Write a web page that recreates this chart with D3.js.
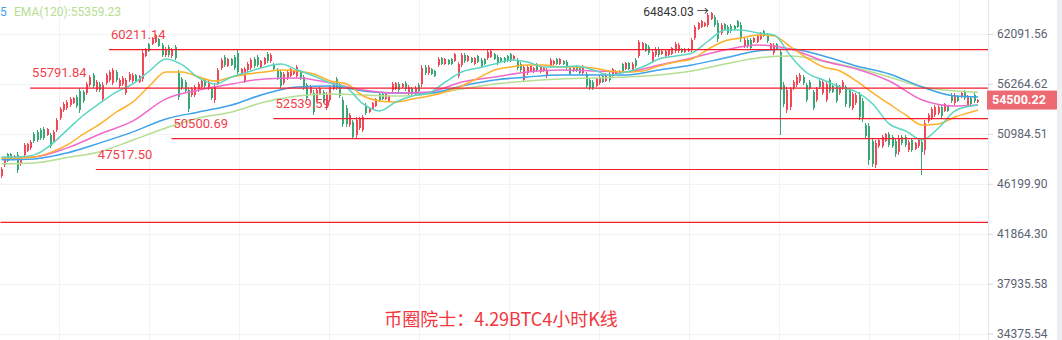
<!DOCTYPE html>
<meta charset="utf-8">
<script src="https://d3js.org/d3.v7.min.js"></script>
<style>
  body { margin: 0; background: #fff; }
  svg { display: block; font-family: Roboto, "Noto Sans CJK SC", sans-serif; }
</style>
<div id="chart"></div>
<script>
// price axis ticks (log scale)
const priceTicks = [62091.56, 56264.62, 50984.51, 46199.90, 41864.30, 37935.58, 34375.54];

// drawn support / resistance levels, and the candle they start from
const levels = [60211.14, 55791.84, 52539.59, 50500.69, 47517.50, 42812];
const levelFrom = [33, 9, 83, 52, 29, 0];
const levelLabelled = [true, true, true, true, true, false];

// 4h candles: [open, high, low, close]
const ohlc = [
  [46920,47760,46740,47580],[47950,48710,47760,48520],[49000,49100,48240,48330],[49000,49100,48430,48520],
  [48520,48910,48430,48810],[48910,49200,47200,47480],[48050,48810,47860,48620],[48910,50080,48710,49880],
  [49290,50080,49200,49980],[49590,50370,49390,50180],[50970,51180,50080,50280],[51180,51380,50180,50370],
  [51380,51580,50370,50570],[51480,51680,50370,50570],[50870,51580,50770,51480],[50870,51070,49590,49780],
  [50280,51380,50080,51180],[51380,52610,51180,52400],[52610,53760,52400,53550],[53440,54300,53230,54080],
  [53660,54510,53440,54300],[53970,54830,53760,54620],[54190,54830,54080,54730],[54830,55050,53660,53870],
  [55490,55820,53130,53440],[55380,55600,54190,54400],[55270,56480,55050,56260],[56150,57270,55930,57040],
  [57270,57490,55820,56040],[55600,56700,55380,56480],[56260,56480,55380,55600],[54620,56480,54300,56150],
  [56370,57490,56150,57270],[56700,57830,56480,57610],[56370,58060,56150,57830],[57610,57830,56480,56700],
  [56040,56930,55820,56700],[56260,57150,56040,56930],[55270,56930,55050,56700],[56700,57610,56480,57380],
  [56590,57490,56370,57270],[57270,57380,56480,56590],[56480,57270,56370,57150],[56820,60160,56480,59810],
  [59450,60400,59340,60280],[60880,61000,59920,60040],[60880,61730,60760,61600],[61120,62090,61000,61970],
  [61480,61600,60520,60640],[60760,61000,59340,59570],[59570,60520,59340,60280],[60520,60760,59340,59570],
  [59450,60400,59220,60160],[60520,60760,58990,59220],[57490,57830,54510,54830],[56820,57040,55600,55820],
  [56480,56700,55270,55490],[55600,55930,53230,53550],[55050,55930,54830,55710],[55050,56150,54830,55930],
  [55600,56480,55380,56260],[55930,56700,55820,56590],[56700,56930,55820,56040],[55820,56700,55600,56480],
  [55710,55930,54510,54730],[54510,56370,54190,56040],[56370,58060,56150,57830],[58060,59220,57830,58990],
  [59340,59570,58180,58410],[58290,59220,58180,59100],[59100,59220,58290,58410],[59340,59570,57830,58060],
  [59810,60160,57270,57610],[57380,58060,57270,57950],[56590,58180,56370,57950],[57830,58750,57610,58520],
  [58060,59220,57830,58990],[59100,59340,58060,58290],[59340,59570,58180,58410],[58180,58990,58060,58870],
  [58520,59340,58410,59220],[59690,59920,58640,58870],[58870,59810,58640,59570],[58520,58640,57830,57950],
  [57830,58060,56700,56930],[57610,57830,55820,56040],[56370,57610,56150,57380],[56930,57830,56700,57610],
  [57150,58060,57040,57950],[57380,57830,57270,57720],[57150,58410,56930,58180],[57610,57830,56700,56930],
  [57040,57270,55600,55820],[56150,56370,54510,54730],[55270,56150,55050,55930],[55270,55600,52920,53230],
  [54510,55820,54300,55600],[55160,55930,55050,55820],[55380,55600,54190,54400],[53660,55380,53440,55160],
  [54510,56150,54300,55930],[55710,56480,55600,56370],[56820,57040,55600,55820],[56260,56480,54730,54940],
  [54510,54830,51680,51990],[53660,53970,51680,51990],[51890,53130,51680,52920],[52190,52400,50470,50670],
  [50870,52710,50570,52400],[51580,52710,51380,52500],[51380,52920,51180,52710],[53970,54190,52920,53130],
  [53230,53660,53130,53550],[53550,54300,53440,54190],[53870,54730,53760,54620],[55160,55380,54300,54510],
  [55160,55270,54510,54620],[54620,55270,54510,55160],[54400,55050,54300,54940],[55600,56480,55380,56260],
  [55710,56480,55600,56370],[56260,56480,55380,55600],[55930,56370,55820,56260],[56370,56590,55490,55710],
  [55270,56150,55050,55930],[55820,55930,55050,55160],[55160,56040,54940,55820],[56150,56370,55270,55490],
  [56260,58410,55930,58060],[58180,58410,57270,57490],[57490,58410,57270,58180],[57950,58060,57270,57380],
  [57720,57830,57040,57150],[58410,59340,58180,59100],[59220,59340,58410,58520],[58520,59220,58410,59100],
  [58990,59100,58410,58520],[59100,59220,58410,58520],[58870,59810,58750,59690],[57150,58750,56930,58520],
  [58410,59810,58180,59570],[59570,59810,58640,58870],[58870,59570,58750,59450],[59220,59340,58640,58750],
  [58520,59340,58410,59220],[59450,59570,58640,58750],[58990,59220,58060,58290],[59100,59220,58410,58520],
  [59220,60160,58990,59920],[59340,60160,59220,60040],[59690,59810,58990,59100],[59340,59570,58410,58640],
  [59220,59340,58750,58870],[59220,59340,58640,58750],[59450,59570,58750,58870],[59690,59810,58750,58870],
  [59100,59570,58990,59450],[58990,59220,57830,58060],[58520,58750,57610,57830],[56700,58410,56480,58180],
  [57490,58410,57270,58180],[57720,58410,57610,58290],[57610,58180,57490,58060],[58520,58640,57610,57720],
  [57610,58410,57490,58290],[57720,58180,57610,58060],[57150,58060,56930,57830],[58290,59220,58060,58990],
  [58520,58990,58410,58870],[59100,59220,58410,58520],[58520,59220,58410,59100],[58870,58990,58410,58520],
  [58750,58990,57830,58060],[58060,58180,57270,57380],[57720,58180,57610,58060],[58290,58410,57610,57720],
  [58180,58290,57380,57490],[57490,58410,57270,58180],[57380,57610,55820,56040],[56700,56930,55600,55820],
  [56480,56700,55600,55820],[56040,56930,55930,56820],[56370,57270,56150,57040],[57150,57270,56370,56480],
  [56590,57490,56480,57380],[57380,57610,56480,56700],[57150,58060,57040,57950],[57380,57830,57270,57720],
  [57610,57830,57490,57720],[58520,58640,57610,57720],[57950,58750,57830,58640],[58640,58750,57830,57950],
  [57830,58750,57610,58520],[58990,59220,58060,58290],[59450,61360,59220,61120],[60280,61120,60160,61000],
  [60880,61000,59920,60040],[60520,60760,59570,59810],[58870,60160,58640,59920],[59570,60520,59340,60280],
  [60280,60520,59340,59570],[59690,60160,59570,60040],[59450,60160,59340,60040],[59570,60280,59450,60160],
  [59690,60520,59570,60400],[60040,61120,59810,60880],[60040,61000,59810,60760],[60280,60400,59810,59920],
  [59920,60400,59810,60280],[60040,60400,59920,60280],[60160,61600,59920,61360],[61600,63210,61360,62960],
  [62710,63580,62590,63460],[62960,63830,62830,63710],[63080,63580,62960,63460],[63210,64720,62960,64470],
  [63960,64843.03,63830,64720],[64210,64470,62960,63210],[63460,63830,61120,61480],[62220,63460,61970,63210],
  [63330,63460,62590,62710],[62960,63210,61970,62220],[63080,63330,62220,62460],[63080,63210,62590,62710],
  [63710,63830,62830,62960],[63210,63580,61120,61480],[60640,61600,60400,61360],[61360,61600,60400,60640],
  [61360,61600,60160,60400],[61120,61730,61000,61600],[61120,61970,61000,61850],[61480,62340,61360,62220],
  [62460,62590,61730,61850],[61970,62220,61000,61240],[60280,61000,60160,60880],[59810,61000,59570,60760],
  [60880,61000,60160,60280],[59920,60160,50870,55600],[56150,56480,53760,54080],[53440,55930,53130,55600],
  [53760,55930,53440,55710],[55820,56700,55600,56480],[56150,57270,55930,57040],[56590,57490,56370,57270],
  [57040,57270,56150,56370],[56150,56370,54300,54510],[56480,56700,55600,55820],[55380,55600,53440,53660],
  [54510,55930,54300,55710],[56590,56820,55710,55930],[55270,56700,55050,56480],[54510,56480,54300,56260],
  [56700,56930,55270,55490],[56040,56150,55270,55380],[56150,56370,54190,54400],[55270,56150,55050,55930],
  [55820,56700,55600,56480],[55930,56150,53760,54080],[55600,55820,53660,53870],[53660,55380,53440,55160],
  [54190,55270,53970,55050],[55050,55380,52400,52710],[54400,54730,52190,52500],[51890,52090,50570,50770],
  [51780,52090,47950,48430],[50280,50570,47760,48050],[47950,50370,47670,50080],[49780,50570,49590,50370],
  [49780,50870,49590,50670],[50280,51070,50180,50970],[50970,51180,49680,49880],[50670,50870,49590,49780],
  [50280,50570,48710,49000],[49200,50870,48910,50570],[50670,50870,49880,50080],[50670,50870,49680,49880],
  [49390,50370,49200,50180],[50370,50570,49200,49390],[49490,50180,49390,50080],[49780,50570,49590,50370],
  [50180,50370,47020,49200],[49390,52400,48910,52090],[52300,53130,52090,52920],[52610,53760,52400,53550],
  [52920,53970,52710,53760],[53130,53970,52920,53760],[53760,53970,52610,52820],[53340,54190,53230,54080],
  [53870,53970,53230,53340],[55050,55270,54190,54400],[54190,55270,53970,55050],[54940,55050,54300,54400],
  [54830,55380,54730,55270],[55380,55600,54510,54730],[53970,55050,53760,54830],[54730,54830,53970,54080],
  [55050,55270,54190,54400],[54300,54620,54190,54500.22]
];

// EMA values read at sampled candle indices
const fastIdx = [0,5,10,15,20,25,30,35,40,45,50,55,60,65,70,75,80,85,90,95,100,105,110,115,120,125,130,135,140,145,
  150,155,160,165,170,175,180,185,190,195,200,205,210,215,220,225,230,235,240,245,250,255,260,265,270,275,280,285,290,295,297];
const slowIdx = [0,10,20,30,40,50,60,70,80,90,100,110,120,130,140,150,160,170,180,190,200,210,220,230,240,250,260,270,280,290,297];

const emaTeal = [48710,48710,48910,49880,51380,52920,54190,55380,56260,57720,
  59100,58410,56930,56260,57040,57610,58180,58520,57830,57150,
  56370,55820,54080,53340,54300,54940,55270,56480,57610,58060,
  58520,58990,58750,58180,58180,58290,57830,57270,57610,58180,
  59100,59450,59810,61240,62590,62590,62220,61970,59450,57490,
  56700,55930,55380,54080,51990,51280,50370,51580,53340,53870,53970];
const emaOrange = [48620,48620,48710,49150,49880,50970,51990,53230,54300,56040,
  57610,57610,57040,56590,57040,57380,57610,57830,57720,57380,
  56590,56260,54940,54400,54300,54620,54940,55380,56040,56930,
  57830,58180,58410,58410,58180,58180,58060,57720,57610,57720,
  58290,58750,59100,60280,61240,61600,61970,61850,60520,59220,
  58180,57720,56590,55270,54080,52920,51890,51990,52710,53230,53440];
const emaPink = [48620,48710,49590,50970,52300,54620,55600,56260,56820,56930,56370,55600,55270,55380,56480,
  57040,57610,57830,57720,57610,58410,59220,60160,60760,60280,58870,57950,56590,54510,53870,53970];
const emaBlue = [48430,48520,49100,50080,51180,52500,53230,53970,55160,55930,56040,55490,55270,55270,56040,
  56700,57040,57270,57270,57270,57830,58410,59220,60040,60280,59450,58290,57380,55930,54940,54828.75];
const emaGreen = [48050,48140,48650,49220,50370,51580,52610,53230,54300,54940,55160,55050,54940,55160,55710,
  56260,56590,56820,56930,57040,57270,57720,58520,59220,59450,58870,58060,57040,55930,55490,55359.23];

const width = 1062, height = 340;
const plotRight = 988;
const upColor = "#ee4a57", downColor = "#3aa876", levelColor = "#f31d2c";

const svg = d3.select("#chart").append("svg")
    .attr("width", width)
    .attr("height", height);

const x = d3.scaleLinear().domain([0, ohlc.length - 1]).range([1.5, 978]);
const y = d3.scaleLog().domain([34375.54, 62091.56]).range([333.5, 34]);

// grid
const grid = svg.append("g").attr("stroke", "#f0f2f6").attr("shape-rendering", "crispEdges");
grid.selectAll(".gx").data(d3.range(59, plotRight, 90)).join("line")
    .attr("x1", d => d + 0.5).attr("x2", d => d + 0.5)
    .attr("y1", 0).attr("y2", height);
grid.selectAll(".gy").data(priceTicks).join("line")
    .attr("x1", 0).attr("x2", plotRight)
    .attr("y1", d => Math.round(y(d)) + 0.5).attr("y2", d => Math.round(y(d)) + 0.5);

// candles
const cg = svg.append("g").attr("shape-rendering", "crispEdges");
const candle = cg.selectAll("g").data(ohlc).join("g")
    .attr("fill", d => d[3] >= d[0] ? upColor : downColor)
    .attr("stroke", d => d[3] >= d[0] ? upColor : downColor);
candle.append("line")
    .attr("x1", (d, i) => Math.round(x(i)) - 0.5)
    .attr("x2", (d, i) => Math.round(x(i)) - 0.5)
    .attr("y1", d => y(d[1]))
    .attr("y2", d => y(d[2]))
    .attr("stroke-width", 1);
candle.append("rect")
    .attr("stroke", "none")
    .attr("x", (d, i) => Math.round(x(i)) - 1)
    .attr("width", 2)
    .attr("y", d => y(Math.max(d[0], d[3])))
    .attr("height", d => Math.max(1, Math.abs(y(d[0]) - y(d[3]))));

// EMA lines
const emaLine = d3.line().x(d => x(d[0])).y(d => y(d[1])).curve(d3.curveMonotoneX);
const emas = [
  {idx: slowIdx, vals: emaGreen, color: "#b6de92"},
  {idx: slowIdx, vals: emaBlue, color: "#3ea3ea"},
  {idx: slowIdx, vals: emaPink, color: "#f06acb"},
  {idx: fastIdx, vals: emaOrange, color: "#ffb02a"},
  {idx: fastIdx, vals: emaTeal, color: "#5cd6c2"}
];
svg.append("g").selectAll("path").data(emas).join("path")
    .attr("fill", "none")
    .attr("stroke", d => d.color)
    .attr("stroke-width", 1.5)
    .attr("d", d => emaLine(d.idx.map((k, j) => [k, d.vals[j]])));

// levels
const lv = svg.append("g");
lv.selectAll("line").data(levels).join("line")
    .attr("x1", (d, i) => x(levelFrom[i]) - 1)
    .attr("x2", plotRight)
    .attr("y1", d => y(d)).attr("y2", d => y(d))
    .attr("stroke", levelColor)
    .attr("stroke-width", 1.2);
lv.selectAll("text").data(levels.filter((d, i) => levelLabelled[i])).join("text")
    .attr("x", (d, i) => x(levelFrom[i]) + 1)
    .attr("y", d => y(d) - 11)
    .attr("fill", "#f2404c")
    .style("font-size", "13px")
    .text(d => d3.format(".2f")(d));

// right axis
svg.append("line")
    .attr("x1", plotRight + 0.5).attr("x2", plotRight + 0.5)
    .attr("y1", 0).attr("y2", height)
    .attr("stroke", "#e3e6ec");
const axis = svg.append("g")
    .attr("transform", "translate(" + plotRight + ",0)")
    .call(d3.axisRight(y).tickValues(priceTicks).tickFormat(d3.format(".2f")).tickSize(5).tickPadding(4));
axis.select(".domain").remove();
axis.selectAll("line").attr("stroke", "#d5d9e0");
axis.selectAll("text")
    .attr("fill", "#5b6372")
    .style("font-size", "12px")
    .style("font-family", "Roboto, sans-serif");

// last price tag
const last = ohlc[ohlc.length - 1][3];
svg.append("rect")
    .attr("x", plotRight - 1).attr("y", y(last) - 9.5)
    .attr("width", 70).attr("height", 19)
    .attr("fill", "#ed6a73");
svg.append("text")
    .attr("x", plotRight + 4).attr("y", y(last))
    .attr("dy", "0.35em")
    .attr("fill", "#fff")
    .style("font-size", "12.5px")
    .style("font-weight", "bold")
    .text(d3.format(".2f")(last));
svg.append("rect")
    .attr("x", 1057).attr("y", 0)
    .attr("width", 5).attr("height", height)
    .attr("fill", "#eceef2");

// max high annotation
const maxI = d3.maxIndex(ohlc, d => d[1]);
svg.append("text")
    .attr("x", x(maxI) - 3)
    .attr("y", y(ohlc[maxI][1]) + 4)
    .attr("text-anchor", "end")
    .attr("fill", "#333")
    .style("font-size", "12px")
    .text(d3.format(".2f")(ohlc[maxI][1]) + " \u2192");

// legend (only the tail of the previous item shows at the left edge)
svg.append("text")
    .attr("x", 0).attr("y", 16)
    .attr("fill", "#3ea3ea")
    .style("font-size", "12px")
    .text(d3.format(".2f")(emaBlue[emaBlue.length - 1]).slice(-1));
svg.append("text")
    .attr("x", 14).attr("y", 16)
    .attr("fill", "#b6de92")
    .style("font-size", "12px")
    .text("EMA(120):" + d3.format(".2f")(emaGreen[emaGreen.length - 1]));

// title
svg.append("text")
    .attr("x", 501).attr("y", 326)
    .attr("text-anchor", "middle")
    .attr("fill", "#f2363d")
    .style("font-size", "18px")
    .style("font-family", "'Noto Sans CJK SC', sans-serif")
    .text("币圈院士：4.29BTC4小时K线");
</script>
